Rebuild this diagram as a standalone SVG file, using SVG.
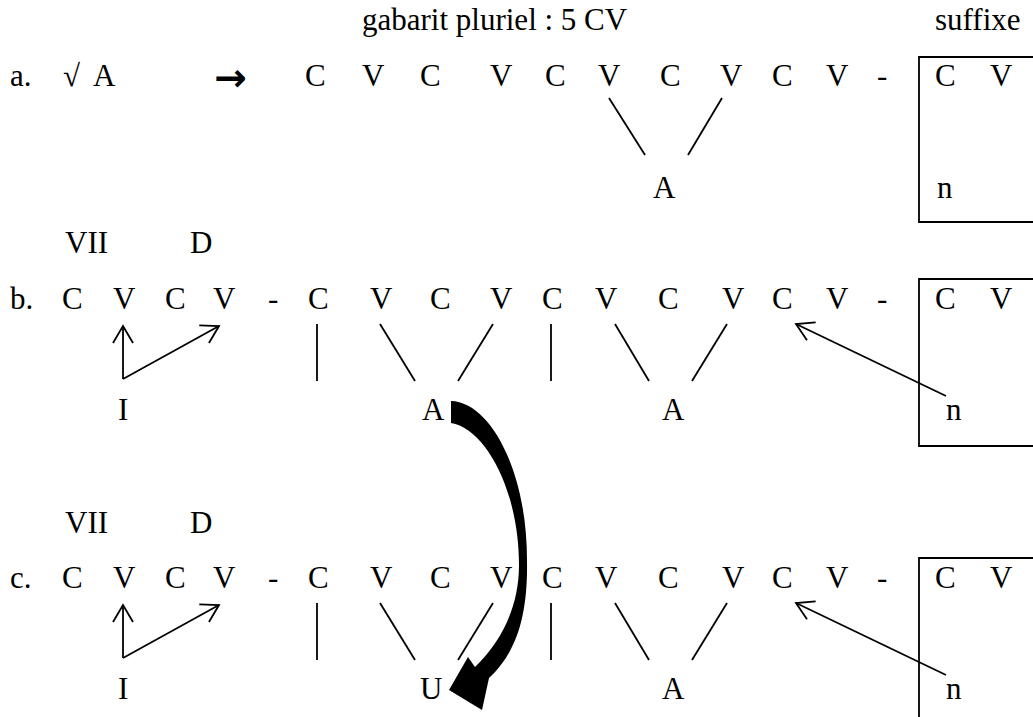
<svg xmlns="http://www.w3.org/2000/svg" width="1033" height="717" viewBox="0 0 1033 717">
<style>
text{font-family:"Liberation Serif","DejaVu Serif",serif;font-size:31px;fill:#000}
.ln{stroke:#000;stroke-width:1.8;fill:none}
.bx{stroke:#000;stroke-width:1.8;fill:none}
.arr{font-family:"DejaVu Sans",sans-serif;font-weight:bold;font-size:39px}
</style>
<defs>
<marker id="oh" markerWidth="24" markerHeight="24" refX="19" refY="11" orient="auto" markerUnits="userSpaceOnUse">
<path d="M2,1 L19,11 L2,21" fill="none" stroke="#000" stroke-width="1.8"/>
</marker>
</defs>
<rect width="1033" height="717" fill="#fff"/>
<g id="header">
<text x="362" y="30">gabarit pluriel : 5 CV</text>
<text x="935" y="30">suffixe</text>
</g>
<g id="row-a">
<text x="10" y="86">a.</text>
<text x="63" y="86">√</text>
<text x="93" y="86">A</text>
<text class="arr" x="214" y="91">→</text>
<text x="305" y="86">C</text><text x="362" y="86">V</text><text x="420" y="86">C</text><text x="490" y="86">V</text>
<text x="545" y="86">C</text><text x="598" y="86">V</text><text x="660" y="86">C</text><text x="720" y="86">V</text>
<text x="772" y="86">C</text><text x="826" y="86">V</text><text x="877" y="86">-</text>
<text x="653" y="198">A</text>
</g>
<g id="suffix-a">
<path class="bx" d="M1040,57 H919 V222 H1040"/>
<text x="935" y="86">C</text><text x="990" y="86">V</text>
<text x="937" y="198">n</text>
</g>
<g id="row-b">
<text x="65" y="253">VII</text><text x="190" y="253">D</text>
<text x="10" y="309">b.</text>
<text x="62" y="309">C</text><text x="113" y="309">V</text><text x="165" y="309">C</text><text x="213" y="309">V</text><text x="268" y="309">-</text>
<text x="308" y="309">C</text><text x="370" y="309">V</text><text x="430" y="309">C</text><text x="490" y="309">V</text>
<text x="542" y="309">C</text><text x="595" y="309">V</text><text x="658" y="309">C</text><text x="722" y="309">V</text>
<text x="772" y="309">C</text><text x="826" y="309">V</text><text x="877" y="309">-</text>
<text x="118" y="420">I</text><text x="422" y="420">A</text><text x="662" y="420">A</text>
</g>
<g id="suffix-b">
<path class="bx" d="M1040,279 H919 V446 H1040"/>
<text x="935" y="309">C</text><text x="990" y="309">V</text>
<text x="946" y="420">n</text>
</g>
<g id="row-c">
<text x="65" y="533">VII</text><text x="190" y="533">D</text>
<text x="10" y="588">c.</text>
<text x="62" y="588">C</text><text x="113" y="588">V</text><text x="165" y="588">C</text><text x="213" y="588">V</text><text x="268" y="588">-</text>
<text x="308" y="588">C</text><text x="370" y="588">V</text><text x="430" y="588">C</text><text x="490" y="588">V</text>
<text x="542" y="588">C</text><text x="595" y="588">V</text><text x="658" y="588">C</text><text x="722" y="588">V</text>
<text x="772" y="588">C</text><text x="826" y="588">V</text><text x="877" y="588">-</text>
<text x="118" y="699">I</text><text x="420" y="699">U</text><text x="662" y="699">A</text>
</g>
<g id="suffix-c">
<path class="bx" d="M1040,558 H919 V720"/>
<text x="935" y="588">C</text><text x="990" y="588">V</text>
<text x="946" y="699">n</text>
</g>
<g id="connectors">
<line class="ln" x1="609" y1="98" x2="645" y2="155"/>
<line class="ln" x1="722" y1="98" x2="688" y2="155"/>
<line class="ln" x1="123" y1="379" x2="123" y2="326" marker-end="url(#oh)"/>
<line class="ln" x1="123" y1="379" x2="219" y2="326" marker-end="url(#oh)"/>
<line class="ln" x1="317" y1="324" x2="317" y2="381"/>
<line class="ln" x1="380" y1="324" x2="415" y2="381"/>
<line class="ln" x1="493" y1="324" x2="458" y2="381"/>
<line class="ln" x1="551" y1="324" x2="551" y2="381"/>
<line class="ln" x1="615" y1="324" x2="649" y2="381"/>
<line class="ln" x1="727" y1="324" x2="692" y2="381"/>
<line class="ln" x1="946" y1="396" x2="796" y2="324" marker-end="url(#oh)"/>
<line class="ln" x1="123" y1="658" x2="123" y2="605" marker-end="url(#oh)"/>
<line class="ln" x1="123" y1="658" x2="219" y2="605" marker-end="url(#oh)"/>
<line class="ln" x1="317" y1="603" x2="317" y2="660"/>
<line class="ln" x1="380" y1="603" x2="415" y2="660"/>
<line class="ln" x1="493" y1="603" x2="458" y2="660"/>
<line class="ln" x1="551" y1="603" x2="551" y2="660"/>
<line class="ln" x1="615" y1="603" x2="649" y2="660"/>
<line class="ln" x1="727" y1="603" x2="692" y2="660"/>
<line class="ln" x1="946" y1="675" x2="796" y2="603" marker-end="url(#oh)"/>
<path d="M451,401 C490,402 527,470 527,560 C528,615 517,652 489,678 L482,710 L449,690 L468,657 L475,667 C503,640 519,605 519,565 C519,490 485,428 451,423 Z" fill="#000"/>
</g>
</svg>
